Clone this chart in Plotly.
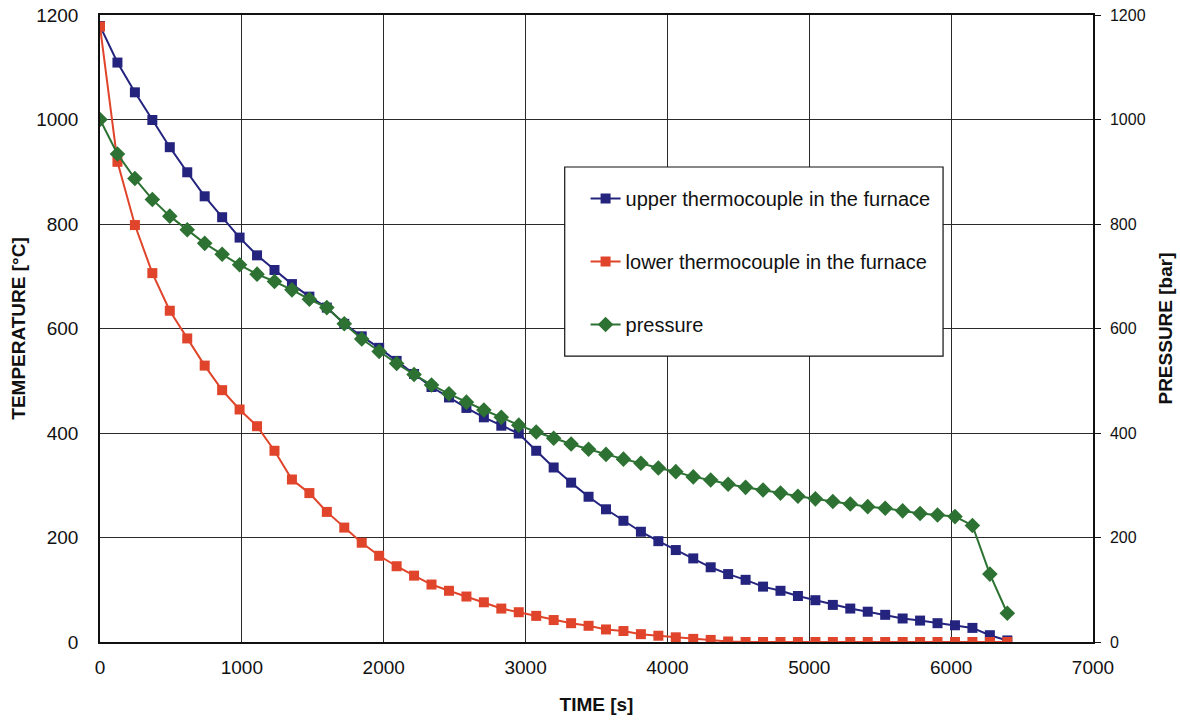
import plotly.graph_objects as go

# Sampling times of the cooling run [s]
TIME_S = [
    0, 123, 246, 369, 492, 615, 738, 861, 984, 1107,
    1230, 1353, 1476, 1599, 1722, 1845, 1968, 2091, 2214, 2337,
    2460, 2583, 2706, 2829, 2952, 3075, 3198, 3321, 3444, 3567,
    3690, 3813, 3936, 4059, 4182, 4305, 4428, 4551, 4674, 4797,
    4920, 5043, 5166, 5289, 5412, 5535, 5658, 5781, 5904, 6027,
    6150, 6273, 6396,
]

# Upper thermocouple in the furnace [°C]
UPPER_TC = [
    1179, 1109, 1052, 999, 947, 899, 853, 813, 774, 740,
    712, 685, 661, 640, 609, 585, 563, 538, 513, 488,
    468, 448, 430, 414, 399, 366, 334, 305, 278, 254,
    232, 211, 193, 176, 160, 143, 130, 119, 106, 98,
    88, 80, 71, 64, 58, 52, 45, 41, 36, 32,
    27, 13, 3,
]

# Lower thermocouple in the furnace [°C]
LOWER_TC = [
    1178, 919, 798, 706, 634, 581, 529, 482, 445, 413,
    366, 311, 285, 249, 219, 190, 165, 145, 127, 110,
    98, 87, 76, 64, 57, 50, 42, 36, 31, 24,
    21, 15, 12, 9, 6, 4, 1, 0, 0, 0,
    0, 0, 0, 0, 0, 0, 0, 0, 0, 0,
    0, 0, 0,
]

# Vessel pressure [bar]
PRESSURE_BAR = [
    1000, 934, 887, 847, 815, 789, 763, 742, 722, 704,
    690, 674, 656, 640, 609, 580, 556, 533, 512, 492,
    475, 459, 444, 430, 415, 402, 390, 379, 369, 359,
    350, 342, 333, 326, 316, 310, 302, 296, 291, 285,
    279, 274, 269, 264, 259, 256, 251, 246, 243, 240,
    223, 130, 55,
]

BLUE = "#24247F"
RED = "#E0442A"
GREEN = "#2D7233"
INK = "#111111"
FONT = "Liberation Sans, Arial, Helvetica, sans-serif"

fig = go.Figure()

fig.add_trace(go.Scatter(
    x=TIME_S, y=UPPER_TC, name="upper thermocouple in the furnace",
    mode="lines+markers", legendgroup="upper",
    line=dict(color=BLUE, width=2),
    marker=dict(symbol="square", size=10, color=BLUE),
))
fig.add_trace(go.Scatter(
    x=TIME_S, y=LOWER_TC, name="lower thermocouple in the furnace",
    mode="lines+markers", legendgroup="lower",
    line=dict(color=RED, width=2),
    marker=dict(symbol="square", size=10, color=RED),
))
fig.add_trace(go.Scatter(
    x=TIME_S, y=PRESSURE_BAR, name="pressure", yaxis="y2",
    mode="lines+markers", legendgroup="pressure",
    line=dict(color=GREEN, width=2),
    marker=dict(symbol="diamond", size=12, color=GREEN),
))

# Legend frame
fig.add_shape(
    type="rect", xref="paper", yref="paper",
    x0=0.468, x1=0.849, y0=0.456, y1=0.7576,
    fillcolor="white", line=dict(color=INK, width=1.2), layer="above",
)

fig.update_layout(
    width=1180, height=722,
    margin=dict(l=100, r=87, t=15, b=80),
    paper_bgcolor="white", plot_bgcolor="white",
    font=dict(family=FONT, color=INK),
    showlegend=True,
    legend=dict(
        x=0.489, y=0.7385, xanchor="left", yanchor="top",
        bgcolor="rgba(0,0,0,0)", borderwidth=0,
        font=dict(size=20, family=FONT, color=INK),
        tracegroupgap=34, itemwidth=30,
    ),
    xaxis=dict(
        range=[0, 7000], tick0=0, dtick=1000, automargin=False,
        showgrid=True, gridcolor="#2a2a2a", gridwidth=1,
        zeroline=False, showline=True, linecolor=INK, linewidth=1.5,
        mirror=True, ticks="", ticklabelstandoff=7,
        tickfont=dict(size=19),
        title=dict(text="<b>TIME [s]</b>", font=dict(size=19), standoff=21),
    ),
    yaxis=dict(
        range=[0, 1200], tick0=0, dtick=200, automargin=False,
        showgrid=True, gridcolor="#2a2a2a", gridwidth=1,
        zeroline=False, showline=True, linecolor=INK, linewidth=1.5,
        mirror=True, ticks="", ticklabelstandoff=16,
        tickfont=dict(size=19),
        title=dict(text="<b>TEMPERATURE [°C]</b>", font=dict(size=19), standoff=6),
    ),
    yaxis2=dict(
        range=[0, 1200], tick0=0, dtick=200, automargin=False,
        overlaying="y", side="right", showgrid=False, zeroline=False,
        showline=True, linecolor=INK, linewidth=1.5,
        ticks="outside", ticklen=6, tickcolor=INK, tickwidth=1.2,
        ticklabelstandoff=6, tickfont=dict(size=16),
        title=dict(text="<b>PRESSURE [bar]</b>", font=dict(size=19), standoff=14),
    ),
)

fig.write_html("out.html")
